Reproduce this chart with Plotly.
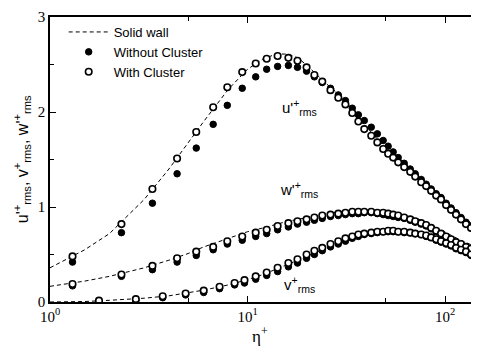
import plotly.graph_objects as go

# --- data ---------------------------------------------------------------
eta_uw = [1.3, 2.3, 3.3, 4.4, 5.5, 6.7, 7.9, 9.4, 11.0, 12.5, 14.2, 16.1, 17.9, 19.9,
          21.8, 23.9, 26.3, 28.8, 31.3, 33.9, 36.4, 39.0, 42.3, 45.4, 48.6, 51.5, 54.6,
          57.9, 62.1, 66.6, 70.6, 75.7, 80.2, 85.0, 90.1, 95.4, 101.2, 107.2, 113.6,
          120.4, 127.6, 135.3, 143.4]

u_without = [0.42, 0.73, 1.04, 1.35, 1.62, 1.87, 2.07, 2.25, 2.37, 2.45, 2.48, 2.49, 2.47, 2.43,
             2.37, 2.31, 2.25, 2.18, 2.12, 2.04, 1.97, 1.91, 1.84, 1.77, 1.70, 1.64, 1.58,
             1.52, 1.46, 1.40, 1.35, 1.29, 1.24, 1.19, 1.14, 1.10, 1.04, 0.99, 0.94,
             0.89, 0.84, 0.80, 0.76]
u_with = [0.48, 0.82, 1.19, 1.51, 1.79, 2.05, 2.26, 2.42, 2.51, 2.56, 2.59, 2.57, 2.54, 2.47,
          2.39, 2.32, 2.23, 2.15, 2.08, 1.99, 1.90, 1.82, 1.75, 1.68, 1.61, 1.56, 1.52,
          1.47, 1.42, 1.37, 1.32, 1.26, 1.22, 1.17, 1.12, 1.08, 1.02, 0.97, 0.92,
          0.87, 0.82, 0.78, 0.74]

w_without = [0.17, 0.27, 0.34, 0.42, 0.49, 0.55, 0.61, 0.65, 0.69, 0.72, 0.76, 0.79, 0.82, 0.84,
             0.86, 0.88, 0.90, 0.91, 0.92, 0.93, 0.93, 0.94, 0.94, 0.93, 0.92, 0.91, 0.90,
             0.89, 0.88, 0.86, 0.84, 0.82, 0.80, 0.77, 0.74, 0.71, 0.68, 0.65, 0.62,
             0.60, 0.57, 0.55, 0.53]
w_with = [0.19, 0.29, 0.38, 0.46, 0.53, 0.58, 0.64, 0.69, 0.73, 0.76, 0.80, 0.83, 0.85, 0.87,
          0.89, 0.91, 0.92, 0.93, 0.94, 0.95, 0.95, 0.95, 0.95, 0.94, 0.94, 0.93, 0.92,
          0.91, 0.89, 0.87, 0.85, 0.83, 0.81, 0.78, 0.75, 0.72, 0.69, 0.66, 0.63,
          0.61, 0.58, 0.56, 0.54]

eta_v = [1.77, 2.72, 3.72, 4.86, 6.0, 7.22, 8.6, 9.65, 11.0, 12.5, 14.2, 16.1, 17.9, 19.9,
         21.8, 23.9, 26.3, 28.8, 31.3, 33.9, 36.4, 39.0, 42.3, 45.4, 48.6, 51.5, 54.6,
         57.9, 62.1, 66.6, 70.6, 75.7, 80.2, 85.0, 90.1, 95.4, 101.2, 107.2, 113.6,
         120.4, 127.6, 135.3, 143.4]
v_without = [0.005, 0.015, 0.045, 0.075, 0.10, 0.14, 0.18, 0.20, 0.24, 0.28, 0.32, 0.37, 0.41, 0.46,
             0.50, 0.54, 0.58, 0.61, 0.64, 0.67, 0.69, 0.71, 0.72, 0.73, 0.74, 0.74, 0.74,
             0.74, 0.73, 0.73, 0.72, 0.71, 0.69, 0.68, 0.65, 0.63, 0.61, 0.59, 0.56,
             0.54, 0.52, 0.49, 0.47]
v_with = [0.015, 0.03, 0.06, 0.09, 0.12, 0.16, 0.20, 0.23, 0.27, 0.31, 0.36, 0.41, 0.45, 0.50,
          0.54, 0.57, 0.61, 0.64, 0.67, 0.69, 0.71, 0.72, 0.73, 0.74, 0.74, 0.75, 0.75,
          0.74, 0.74, 0.73, 0.72, 0.71, 0.70, 0.68, 0.66, 0.64, 0.62, 0.60, 0.57,
          0.55, 0.53, 0.50, 0.48]

eta_wall = [1.0, 1.5, 2.0, 3.0, 4.0, 5.0, 6.0, 8.0, 10.0, 12.0, 14.0, 16.0, 18.0, 20.0,
            25.0, 30.0, 35.0, 40.0, 50.0, 60.0, 70.0, 80.0, 100.0, 120.0, 147.0]
u_wall = [0.36, 0.55, 0.72, 1.08, 1.40, 1.68, 1.90, 2.24, 2.45, 2.56, 2.61, 2.61, 2.57, 2.49,
          2.30, 2.16, 1.99, 1.84, 1.62, 1.45, 1.33, 1.23, 1.05, 0.91, 0.78]
w_wall = [0.165, 0.22, 0.27, 0.36, 0.44, 0.51, 0.58, 0.67, 0.74, 0.78, 0.82, 0.85, 0.87, 0.89,
          0.93, 0.95, 0.96, 0.96, 0.95, 0.92, 0.89, 0.84, 0.74, 0.65, 0.57]
v_wall = [0.0, 0.005, 0.018, 0.04, 0.065, 0.095, 0.125, 0.18, 0.235, 0.29, 0.35, 0.40, 0.44, 0.48,
          0.57, 0.63, 0.67, 0.70, 0.73, 0.74, 0.73, 0.71, 0.66, 0.60, 0.53]

x_tickvals = [1, 10, 100]
x_ticktext = ["10<sup>0</sup>", "10<sup>1</sup>", "10<sup>2</sup>"]
y_tickvals = [0, 1, 2, 3]

# --- figure ---------------------------------------------------------------
fig = go.Figure()

dash_style = dict(color="black", width=1, dash="4px,3px")
closed_m = dict(symbol="circle", size=6.5, color="black", line=dict(color="black", width=1))
open_m = dict(symbol="circle", size=6.5, color="white", line=dict(color="black", width=1.6))

fig.add_trace(go.Scatter(x=eta_wall, y=u_wall, mode="lines", line=dash_style,
                         name="Solid wall"))
fig.add_trace(go.Scatter(x=eta_wall, y=w_wall, mode="lines", line=dash_style,
                         showlegend=False))
fig.add_trace(go.Scatter(x=eta_wall, y=v_wall, mode="lines", line=dash_style,
                         showlegend=False))

fig.add_trace(go.Scatter(x=eta_uw, y=u_without, mode="markers", marker=closed_m,
                         name="Without Cluster"))
fig.add_trace(go.Scatter(x=eta_uw, y=w_without, mode="markers", marker=closed_m,
                         showlegend=False))
fig.add_trace(go.Scatter(x=eta_v, y=v_without, mode="markers", marker=closed_m,
                         showlegend=False))

fig.add_trace(go.Scatter(x=eta_uw, y=u_with, mode="markers", marker=open_m,
                         name="With Cluster"))
fig.add_trace(go.Scatter(x=eta_uw, y=w_with, mode="markers", marker=open_m,
                         showlegend=False))
fig.add_trace(go.Scatter(x=eta_v, y=v_with, mode="markers", marker=open_m,
                         showlegend=False))

lab_font = dict(family="Liberation Sans, Arial, sans-serif", size=15, color="black")
fig.add_annotation(x=1.262, y=2.05, xref="x", yref="y", showarrow=False, font=lab_font,
                   text="u'<sup>+</sup><sub>rms</sub>")
fig.add_annotation(x=1.262, y=1.18, xref="x", yref="y", showarrow=False, font=lab_font,
                   text="w'<sup>+</sup><sub>rms</sub>")
fig.add_annotation(x=1.262, y=0.18, xref="x", yref="y", showarrow=False, font=lab_font,
                   text="v<sup>+</sup><sub>rms</sub>")

# axis titles
fig.add_annotation(x=0.49, y=-0.117, xref="paper", yref="paper", showarrow=False,
                   xanchor="center", yanchor="middle", text="η<sup>+</sup>",
                   font=dict(family="Liberation Serif, Times New Roman, serif", size=17, color="black"))
fig.add_annotation(x=-0.066, y=0.5, xref="paper", yref="paper", showarrow=False,
                   xanchor="center", yanchor="middle", textangle=-90,
                   text="u'<sup>+</sup><sub>rms</sub>, v<sup>+</sup><sub>rms</sub>, w'<sup>+</sup><sub>rms</sub>",
                   font=dict(family="Liberation Sans, Arial, sans-serif", size=16, color="black"))

serif = dict(family="Liberation Serif, Times New Roman, serif", size=15, color="black")

# page body has an 8px default margin, so the figure is sized/offset to compensate
fig.update_layout(
    width=471, height=339,
    margin=dict(l=42, r=1, t=9, b=45),
    paper_bgcolor="white", plot_bgcolor="white",
    showlegend=True,
    legend=dict(x=0.032, y=1.0, xanchor="left", yanchor="top",
                bgcolor="rgba(0,0,0,0)", borderwidth=0,
                font=dict(family="Liberation Sans, Arial, sans-serif", size=13, color="black"),
                tracegroupgap=0, itemwidth=40),
    xaxis=dict(type="log", range=[0, 2.1667], showgrid=False, zeroline=False, automargin=False,
               showline=True, linecolor="black", linewidth=1.5, mirror="allticks",
               ticks="inside", ticklen=6, tickwidth=1, tickcolor="black",
               tickvals=x_tickvals, ticktext=x_ticktext, tickfont=serif,
               ticklabeloverflow="allow",
               minor=dict(tickvals=[5, 50], ticks="inside", ticklen=4, tickcolor="black")),
    yaxis=dict(range=[0, 3], showgrid=False, zeroline=False, automargin=False,
               showline=True, linecolor="black", linewidth=1.5, mirror="allticks",
               ticks="inside", ticklen=6, tickwidth=1, tickcolor="black",
               tickvals=y_tickvals, tickfont=serif, ticklabeloverflow="allow",
               minor=dict(dtick=0.5, ticks="inside", ticklen=4, tickcolor="black")),
)

fig.write_html("out.html")
